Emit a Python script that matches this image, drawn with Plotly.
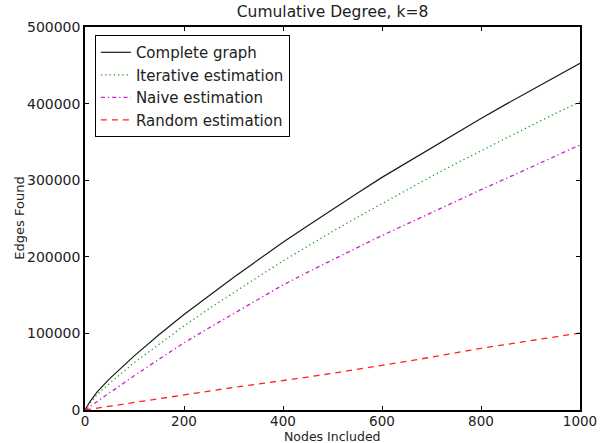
import plotly.graph_objects as go

nodes = [0, 10, 25, 50, 100, 150, 200, 250, 300, 350, 400, 450, 500,
         550, 600, 650, 700, 750, 800, 850, 900, 950, 1000]
complete = [0, 11000, 24000, 41000, 71000, 98500, 124700, 149000, 173000, 196000, 219000, 240500, 262000,
            283000, 303700, 323000, 343000, 362000, 380500, 399000, 417000, 435000, 452600]
iterative = [0, 9000, 20500, 35000, 62000, 86500, 109800, 132000, 153500, 174000, 194600, 214000, 233000,
             251500, 269600, 287500, 305000, 322000, 338600, 355000, 371000, 387000, 402500]
naive = [0, 4500, 11500, 23000, 45000, 66500, 87700, 107000, 126000, 145000, 163200, 180000, 196500,
         212000, 227800, 243000, 258000, 273000, 287600, 302000, 317000, 331500, 346000]
random_est = [0, 1000, 2500, 5000, 10000, 15000, 20200, 25000, 29500, 34000, 38300, 43000, 48000,
              53000, 58100, 63500, 69000, 75000, 80500, 85500, 90500, 95500, 100500]

x_ticks = [0, 200, 400, 600, 800, 1000]
y_ticks = [0, 100000, 200000, 300000, 400000, 500000]

FONT = "DejaVu Sans"

fig = go.Figure()
fig.add_trace(go.Scatter(x=nodes, y=complete, mode="lines", name="Complete graph",
                         line=dict(color="#1a1a1a", width=1.2)))
fig.add_trace(go.Scatter(x=nodes, y=iterative, mode="lines", name="Iterative estimation",
                         line=dict(color="#22a022", width=1.3, dash="1.3px,3px")))
fig.add_trace(go.Scatter(x=nodes, y=naive, mode="lines", name="Naive estimation",
                         line=dict(color="#cc22cc", width=1.3, dash="4px,3px,1.3px,3px")))
fig.add_trace(go.Scatter(x=nodes, y=random_est, mode="lines", name="Random estimation",
                         line=dict(color="#ff2020", width=1.3, dash="6px,5px")))

axis_common = dict(showline=True, mirror="allticks", linecolor="black", linewidth=1.5,
                   ticks="inside", ticklen=4, tickcolor="black", showgrid=False,
                   zeroline=False, automargin=False)

fig.update_layout(
    template="none",
    width=609, height=443,
    margin=dict(l=85, r=29, t=27, b=33, pad=0),
    paper_bgcolor="white", plot_bgcolor="white",
    font=dict(family=FONT, color="black"),
    title=dict(text="Cumulative Degree, k=8", x=0.546, xanchor="center", y=0.975,
               yanchor="middle", font=dict(family=FONT, size=15.5, color="#222222")),
    xaxis=dict(range=[0, 1000], tickvals=x_ticks, ticktext=[str(v) for v in x_ticks],
               tickfont=dict(family=FONT, size=13.5, color="#222222"), ticklabelstandoff=-2,
               **axis_common),
    yaxis=dict(range=[0, 500000], tickvals=y_ticks, ticktext=[str(v) for v in y_ticks],
               tickfont=dict(family=FONT, size=14, color="#222222"),
               **axis_common),
    legend=dict(x=0.02, y=0.979, xanchor="left", yanchor="top",
                bgcolor="white", bordercolor="black", borderwidth=1,
                font=dict(family=FONT, size=15, color="#222222"),
                tracegroupgap=0, itemwidth=30),
    showlegend=True,
    annotations=[
        dict(text="Nodes Included", xref="paper", yref="paper", x=0.5, y=-0.068,
             xanchor="center", yanchor="middle", showarrow=False,
             font=dict(family=FONT, size=12.5, color="#222222")),
        dict(text="Edges Found", xref="paper", yref="paper", x=-0.133, y=0.5,
             xanchor="center", yanchor="middle", textangle=-90, showarrow=False,
             font=dict(family=FONT, size=13, color="#222222")),
    ],
)

fig.write_html("out.html", config={"displayModeBar": False},
               post_script="document.body.style.margin='0';document.body.style.overflow='hidden';")
